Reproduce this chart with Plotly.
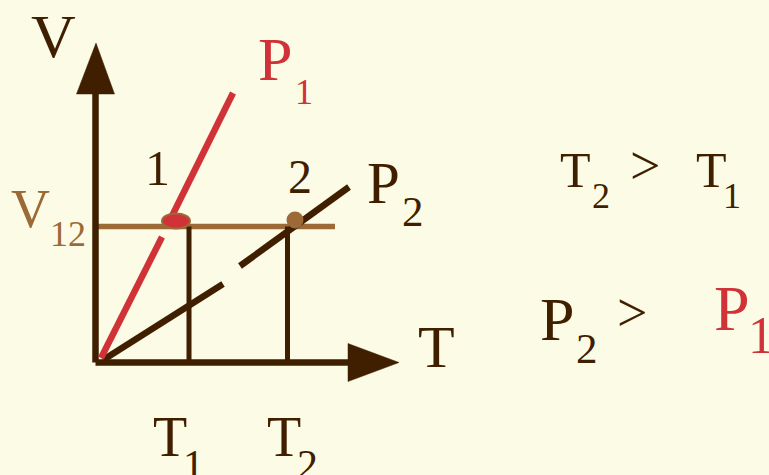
import plotly.graph_objects as go

W, H = 769, 475

# ---- diagram data (T and V measured from the origin of the V-T diagram) ----
T_values = [93.5, 192.0]            # T1, T2
V12 = 136.0                          # common volume of states 1 and 2
V12_line_T = [0.0, 239.5]            # extent of the V12 guide line
P1_T = [5.5, 66.5, None, 75.0, 137.5]     # isobar P1 (red), broken under point 1
P1_V = [4.5, 125.5, None, 143.5, 269.5]
P2_T = [7.5, 127.5, None, 144.5, 253.5]   # isobar P2 (dark), with a gap
P2_V = [2.5, 78.5, None, 96.5, 175.5]
point1_T, point1_V = [80.5], [141.5]
point2_T, point2_V = [199.5], [142.5]
T_axis_end = 252.5
V_axis_end = 268.5
arrow_len = 51
arrow_half = 19

BG = "#fcfbe6"
DARK = "#3f1f00"
RED = "#d03237"
BROWN = "#9b6a37"
FONT = "Liberation Serif"

fig = go.Figure()

def seg(x, y, color, width):
    fig.add_trace(go.Scatter(x=x, y=y, mode="lines",
                             line=dict(color=color, width=width),
                             hoverinfo="skip", showlegend=False))

# V12 guide line
seg(V12_line_T, [V12, V12], BROWN, 5.5)
# drop lines at T1, T2
for t in T_values:
    seg([t, t], [0, V12], DARK, 5)
# axes
seg([0, 0], [0, V_axis_end], DARK, 6.5)
seg([0, T_axis_end], [0, 0], DARK, 6.5)
# arrow heads
fig.add_trace(go.Scatter(x=[-arrow_half, arrow_half, 0.5, -arrow_half],
                         y=[V_axis_end, V_axis_end, V_axis_end + arrow_len, V_axis_end],
                         mode="lines", fill="toself", fillcolor=DARK,
                         line=dict(color=DARK, width=0.5), hoverinfo="skip", showlegend=False))
fig.add_trace(go.Scatter(x=[T_axis_end, T_axis_end, T_axis_end + arrow_len, T_axis_end],
                         y=[-arrow_half, arrow_half, 0, -arrow_half],
                         mode="lines", fill="toself", fillcolor=DARK,
                         line=dict(color=DARK, width=0.5), hoverinfo="skip", showlegend=False))
# isobars
seg(P2_T, P2_V, DARK, 6.5)
seg(P1_T, P1_V, RED, 6.5)
# point 2
fig.add_trace(go.Scatter(x=point2_T, y=point2_V, mode="markers",
                         marker=dict(size=17, color=BROWN, line=dict(width=0)),
                         hoverinfo="skip", showlegend=False))
# point 1 (ellipse)
fig.add_shape(type="circle", xref="x", yref="y",
              x0=point1_T[0] - 14, x1=point1_T[0] + 14,
              y0=point1_V[0] - 7.5, y1=point1_V[0] + 7.5,
              fillcolor=RED, line=dict(color=BROWN, width=2), layer="above")

def txt(s, px, py, size, color=DARK):
    fig.add_annotation(text=s, x=px / W, y=1 - py / H, xref="paper", yref="paper",
                       xanchor="center", yanchor="middle", showarrow=False,
                       font=dict(family=FONT, size=size, color=color))

txt("V", 53.5, 36, 62)
txt("P", 275, 59, 62, RED)
txt("1", 303.5, 92, 36, RED)
txt("1", 157.5, 167.5, 50)
txt("2", 299.5, 176, 48)
txt("P", 383.5, 182.5, 59)
txt("2", 412.5, 211.5, 43)
txt("V", 30.5, 208.5, 54, BROWN)
txt("12", 67.5, 234.5, 36, BROWN)
txt("T", 436.5, 347, 60)
txt("T", 170, 436.5, 56)
txt("1", 193.5, 465, 42)
txt("T", 283.5, 436.5, 56)
txt("2", 307, 465, 42)
# right-hand relations
txt("T", 575, 170, 50)
txt("2", 601, 195.5, 36)
txt("&gt;", 644.5, 166, 54)
txt("T", 711, 170, 50)
txt("1", 731.5, 195.5, 36)
txt("P", 557, 318.5, 62)
txt("2", 587, 348.5, 43)
txt("&gt;", 632, 312.5, 54)
txt("P", 731.5, 308, 64, RED)
txt("1", 761, 335, 52, RED)

fig.update_layout(
    width=W, height=H, margin=dict(l=0, r=0, t=0, b=0),
    paper_bgcolor=BG, plot_bgcolor=BG,
    xaxis=dict(range=[-95.5, W - 95.5], visible=False, fixedrange=True),
    yaxis=dict(range=[362.5 - H, 362.5], visible=False, fixedrange=True),
    showlegend=False,
)

fig.write_html("out.html", config={"displayModeBar": False},
               post_script="document.body.style.margin='0';document.body.style.overflow='hidden';")
